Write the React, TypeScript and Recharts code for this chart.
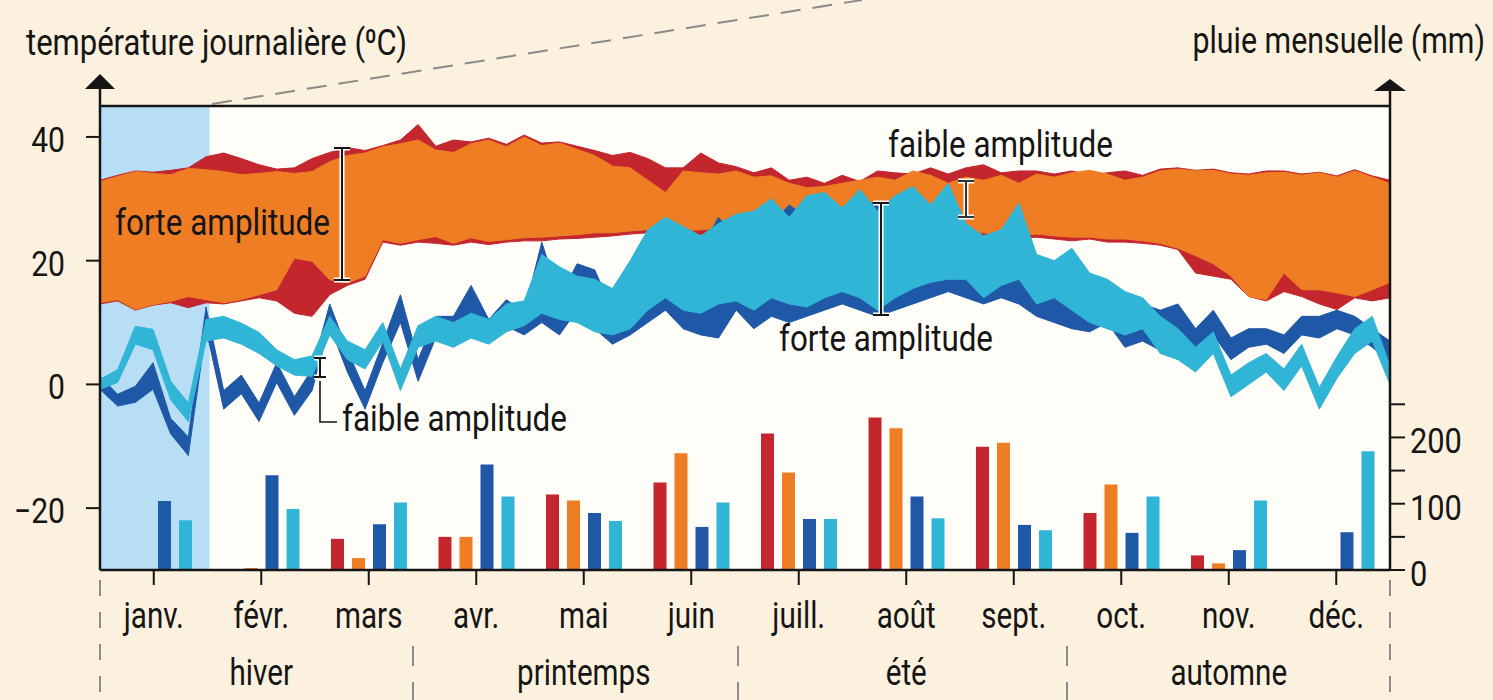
import React from 'react';
import { ComposedChart, Area, Bar, XAxis, YAxis, ReferenceArea } from 'recharts';

const W = 1493;
const H = 700;
const FONT = 'Roboto, "Noto Sans", sans-serif';
const INK = '#151515';

const C_RED = '#c3262d';
const C_ORANGE = '#ee7d24';
const C_DBLUE = '#1f58a7';
const C_LBLUE = '#31b5d6';
const C_JAN = '#b8def6';
const C_BG = '#fcf1de';
const C_PLOT = '#fffdf8';

// ---- daily temperatures (sampled every 5 days) ----
const DAYS = [0, 5, 10, 15, 20, 25, 30, 35, 40, 45, 50, 55, 60, 65, 70, 75, 80, 85, 90, 95, 100, 105, 110, 115, 120, 125, 130, 135, 140, 145, 150, 155, 160, 165, 170, 175, 180, 185, 190, 195, 200, 205, 210, 215, 220, 225, 230, 235, 240, 245, 250, 255, 260, 265, 270, 275, 280, 285, 290, 295, 300, 305, 310, 315, 320, 325, 330, 335, 340, 345, 350, 355, 360, 365];

const RED_MAX = [33, 33.8, 34.5, 34.3, 34.6, 35, 36.8, 37.4, 36.5, 35.5, 34.8, 35, 36.5, 37.5, 38.3, 37.8, 38.6, 39.5, 42, 38.5, 39.5, 39.2, 39.8, 38.8, 40.3, 39, 39.2, 38.5, 37.8, 37, 37.5, 36.5, 35, 35, 37.4, 35.8, 35.2, 34.2, 35, 33, 33.5, 32.5, 33.8, 32.8, 34.5, 34.2, 34, 35, 34, 35, 35.5, 34.2, 34.5, 34.5, 34, 34.5, 33.8, 34.2, 34.5, 33.8, 34.8, 35, 34.6, 34.8, 34.2, 34, 34.5, 34.5, 34, 34.3, 33.7, 34.7, 33.7, 33];
const RED_MIN = [13, 13.5, 12, 12.8, 13.2, 12.4, 13.2, 13, 13.5, 14, 13.5, 11.5, 11, 14.5, 16, 17, 23, 22.5, 23, 22.8, 22.5, 23, 22.6, 23, 23.2, 23.2, 23.5, 23.6, 23.8, 24, 24.3, 24.5, 24.5, 24.5, 24.2, 24.8, 25, 25, 25.2, 25, 25.5, 25.8, 25.5, 26, 26, 25.8, 25.5, 25, 24.8, 24, 24, 23.8, 23.5, 23.8, 23.5, 23.2, 23.5, 23, 23, 22.8, 22.5, 21.8, 18, 17.5, 17, 14.2, 13.5, 15, 14.2, 13, 12.1, 14, 13.5, 14];
const ORANGE_MAX = [32.8, 33.6, 34.4, 34.1, 33.9, 34.9, 34.7, 34.4, 33.9, 34.1, 34.4, 34.1, 34.4, 36, 37, 37.4, 38.4, 38.9, 39.5, 37.9, 37.5, 38.9, 39.5, 38.4, 40, 38.6, 39, 38, 37, 35.3, 35, 33, 31, 34.5, 34.2, 34, 34.5, 33.5, 33.7, 32.5, 31.8, 32, 32.5, 33, 33.5, 33, 34.5, 33.8, 32.5, 33.5, 33, 33.8, 32.5, 34, 33.5, 34.2, 34.6, 34, 33, 33.5, 34.5, 34.8, 34.5, 34.6, 34, 33.8, 34.2, 34.3, 33.8, 34.2, 33.5, 34.5, 33.5, 32.5];
const ORANGE_MIN = [13.2, 13.7, 12.1, 12.9, 13.4, 14.2, 13.7, 13.2, 13.7, 14.5, 15.3, 20.4, 19.9, 16.9, 16.4, 17.5, 23.4, 22.8, 23.4, 23.9, 22.8, 23.7, 23.1, 23.4, 23.7, 23.8, 24, 24.2, 24.5, 24.5, 24.8, 25, 25, 24.8, 25, 25.2, 25.5, 25.5, 26, 25.8, 26, 26.5, 26, 26.2, 26.5, 26.2, 26, 25.5, 25.2, 24.5, 24.5, 24.2, 24, 24.3, 24, 23.8, 23.8, 23.5, 23.5, 23.2, 22.8, 22, 20.8, 19.5, 17.5, 14.2, 13.7, 18, 15.3, 15.3, 14.8, 14.2, 15.3, 16.5];
const DBLUE_MAX = [1.3, -1.6, -0.3, 3.5, -5.5, -8.5, 12.5, -1, 1.5, -3, 3.5, -2, 2.4, 13, 5.5, -1, 6.7, 14.5, 4, 11, 11, 16, 10.5, 13.7, 11.6, 23, 14, 19.5, 18.5, 12, 15, 22, 25, 21, 22, 27, 24, 24, 26, 29, 27, 27, 26, 29, 29.5, 27, 28, 27, 29, 22, 20, 21, 20, 19, 17, 18, 16, 14, 12, 13, 12, 13, 9, 12, 7.5, 9, 9, 8, 11, 11, 12, 11, 9, 7];
const DBLUE_MIN = [-0.8, -3.5, -2.9, -0.8, -8, -11.5, 9, -4, -1.5, -6, 0.3, -5, -1, 9.5, 2, -4, 3.5, 10, 0.5, 7.5, 8, 11, 7.3, 9.4, 8, 10, 8, 12, 9, 6.5, 8, 10, 12, 9, 8, 7.5, 12, 9, 11, 10, 11, 12, 13, 12, 11, 12, 13, 14, 15, 14, 13, 14, 13, 11, 10, 9, 8.5, 10, 6, 7, 5.5, 6, 5, 8, 4, 6, 6.5, 5, 8, 7.5, 9, 8, 6, 3.5];
const LBLUE_MAX = [0.8, 2.4, 9.4, 8.9, 0.5, -3, 10.5, 11, 9.9, 8.4, 5.6, 4, 4.6, 11, 7, 5.6, 10, 2.5, 9.5, 11, 10, 11.5, 10.5, 13, 13.5, 21, 19, 17.5, 17, 15.5, 20, 25, 27, 25.5, 24, 26, 27.5, 28, 30, 27, 30.5, 31, 28.5, 31.5, 28, 30.5, 32, 29, 32.5, 26, 24, 25, 29.3, 21, 20, 22, 18, 17, 15, 14, 11, 9, 6, 8.5, 1.5, 3.5, 5, 2.5, 6.5, -0.5, 4.5, 9, 11, 3];
const LBLUE_MIN = [-0.8, 0.3, 6.5, 5.6, -2.5, -6, 7, 7.5, 6.5, 5, 3, 1.5, 1.3, 8, 4, 2.5, 7, -1, 6, 7, 6, 7.5, 6.5, 8.5, 9.5, 11.5, 10.5, 10, 8.5, 8, 9, 12, 14, 12, 11.5, 13, 13.5, 12, 14, 13, 12.5, 14, 15, 14, 12, 14, 15.5, 16.5, 17, 17, 14, 16, 17, 13, 14, 12, 10, 9, 8, 9, 5, 4, 2, 5, -2, 0, 2, -1, 3, -4, 1, 5, 7, 0];

// ---- monthly rainfall (mm) ----
const MONTHS = ['janv.', 'févr.', 'mars', 'avr.', 'mai', 'juin', 'juill.', 'août', 'sept.', 'oct.', 'nov.', 'déc.'];
const RAIN_RED = [0, 0, 47, 50, 114, 132, 206, 230, 186, 86, 22, 0];
const RAIN_ORANGE = [0, 3, 18, 50, 105, 176, 147, 214, 192, 129, 10, 0];
const RAIN_DBLUE = [104, 143, 69, 159, 86, 65, 77, 111, 68, 56, 30, 57];
const RAIN_LBLUE = [75, 92, 102, 111, 74, 102, 77, 78, 60, 111, 105, 179];

const TEMP_TICKS = [-20, 0, 20, 40];
const RAIN_TICKS = [0, 50, 100, 150, 200, 250];
const SEASONS = ['hiver', 'printemps', 'été', 'automne'];
const JANUARY = [0, 31];

const tempData = DAYS.map((day, i) => ({
  day,
  rd: [RED_MIN[i], RED_MAX[i]],
  or: [ORANGE_MIN[i], ORANGE_MAX[i]],
  db: [DBLUE_MIN[i], DBLUE_MAX[i]],
  lb: [LBLUE_MIN[i], LBLUE_MAX[i]],
}));

const rainData = MONTHS.map((month, i) => ({
  month,
  r: RAIN_RED[i],
  o: RAIN_ORANGE[i],
  d: RAIN_DBLUE[i],
  l: RAIN_LBLUE[i],
}));

// plot rectangle
const PL = 100;
const PR = 1390;
const PT = 106;
const PB = 570;

const layer: React.CSSProperties = { position: 'absolute', left: 0, top: 0 };

const CT = ({ x, y, children, size = 37, anchor = 'start', sx = 0.8, len, fill = INK }: any) => (
  <text
    transform={`translate(${x} ${y}) scale(${sx} 1)`}
    textAnchor={anchor}
    fontSize={size}
    fontFamily={FONT}
    fill={fill}
    textLength={len ? len / sx : undefined}
    lengthAdjust={len ? 'spacingAndGlyphs' : undefined}
  >
    {children}
  </text>
);

const LeftTick = (props: any) => {
  const { x, y, payload } = props;
  const v = payload.value;
  const s = v < 0 ? '\u2212' + Math.abs(v) : String(v);
  return <CT x={x - 19} y={y + 15} size={35} anchor="end" sx={0.86}>{s}</CT>;
};

const RightTick = (props: any) => {
  const { x, y, payload } = props;
  const v = payload.value;
  if (v % 100 !== 0) return <g />;
  return <CT x={x + 3} y={y + 16} size={35} sx={0.88}>{String(v)}</CT>;
};

const MonthTick = (props: any) => {
  const { x, y, payload } = props;
  return <CT x={x} y={y + 41} anchor="middle">{payload.value}</CT>;
};

const Bracket = ({ x, y1, y2, w = 8, color = INK }: any) => (
  <g>
    <path d={`M${x - w} ${y1}H${x + w}M${x} ${y1}V${y2}M${x - w} ${y2}H${x + w}`} stroke="#ffffff" strokeWidth={5} fill="none" />
    <path d={`M${x - w} ${y1}H${x + w}M${x} ${y1}V${y2}M${x - w} ${y2}H${x + w}`} stroke={color} strokeWidth={2} fill="none" />
  </g>
);

export default function App() {
  const monthW = (PR - PL) / 12;
  const seasonCenters = [1, 4, 7, 10].map((m) => PL + (m + 0.5) * monthW);
  return (
    <div style={{ position: 'absolute', left: 0, top: 0, width: W, height: H, background: C_BG, overflow: 'hidden' }}>
      {/* plot background */}
      <div style={{ position: 'absolute', left: PL, top: PT, width: PR - PL, height: PB - PT, background: C_PLOT }} />

      {/* temperatures */}
      <div style={layer}>
        <ComposedChart width={W} height={H} data={tempData} margin={{ top: PT, right: W - PR, bottom: H - PB, left: PL - 60 }}>
          <XAxis type="number" dataKey="day" domain={[0, 365]} hide allowDataOverflow />
          <YAxis
            domain={[-30, 45]}
            ticks={TEMP_TICKS}
            width={60}
            tickSize={14}
            axisLine={{ stroke: INK, strokeWidth: 2.5 }}
            tickLine={{ stroke: INK, strokeWidth: 2 }}
            tick={LeftTick}
            allowDataOverflow
          />
          <ReferenceArea x1={JANUARY[0]} x2={JANUARY[1]} y1={-30} y2={45} fill={C_JAN} fillOpacity={1} stroke="none" ifOverflow="extendDomain" zIndex={-10} />
          <Area type="linear" dataKey="rd" fill={C_RED} fillOpacity={1} stroke={C_RED} strokeWidth={1} isAnimationActive={false} dot={false} activeDot={false} />
          <Area type="linear" dataKey="or" fill={C_ORANGE} fillOpacity={1} stroke={C_ORANGE} strokeWidth={1} isAnimationActive={false} dot={false} activeDot={false} />
          <Area type="linear" dataKey="db" fill={C_DBLUE} fillOpacity={1} stroke={C_DBLUE} strokeWidth={1} isAnimationActive={false} dot={false} activeDot={false} />
          <Area type="linear" dataKey="lb" fill={C_LBLUE} fillOpacity={1} stroke={C_LBLUE} strokeWidth={1} isAnimationActive={false} dot={false} activeDot={false} />
        </ComposedChart>
      </div>

      {/* monthly rainfall */}
      <div style={layer}>
        <ComposedChart width={W} height={H} data={rainData} barGap={8} margin={{ top: PT, right: W - PR - 100, bottom: H - PB - 60, left: PL }}>
          <XAxis
            dataKey="month"
            height={60}
            interval={0}
            tickSize={15}
            axisLine={{ stroke: INK, strokeWidth: 2.5 }}
            tickLine={{ stroke: INK, strokeWidth: 2 }}
            tick={MonthTick}
          />
          <YAxis
            yAxisId="rain"
            orientation="right"
            domain={[0, 700]}
            ticks={RAIN_TICKS}
            width={100}
            tickSize={15}
            axisLine={{ stroke: INK, strokeWidth: 2.5 }}
            tickLine={{ stroke: INK, strokeWidth: 2 }}
            tick={RightTick}
          />
          <Bar yAxisId="rain" dataKey="r" fill={C_RED} barSize={13} isAnimationActive={false} />
          <Bar yAxisId="rain" dataKey="o" fill={C_ORANGE} barSize={13} isAnimationActive={false} />
          <Bar yAxisId="rain" dataKey="d" fill={C_DBLUE} barSize={13} isAnimationActive={false} />
          <Bar yAxisId="rain" dataKey="l" fill={C_LBLUE} barSize={13} isAnimationActive={false} />
        </ComposedChart>
      </div>

      {/* decorations & annotations */}
      <svg width={W} height={H} style={{ ...layer, pointerEvents: 'none' }}>
        <line x1={212} y1={104} x2={862} y2={0} stroke="#8a8a8a" strokeWidth={2} strokeDasharray="20 12" />
        <line x1={PL - 1} y1={PT} x2={PR + 1} y2={PT} stroke={INK} strokeWidth={2.5} />
        <line x1={PL} y1={88} x2={PL} y2={PT} stroke={INK} strokeWidth={2.5} />
        <polygon points={`${PL - 15},89 ${PL + 15},89 ${PL},74`} fill={INK} />
        <line x1={PR} y1={90} x2={PR} y2={PT} stroke={INK} strokeWidth={2.5} />
        <polygon points={`${PR - 16},91 ${PR + 16},91 ${PR},79`} fill={INK} />

        <CT x={26} y={55} sx={1} len={381}>température journalière (⁰C)</CT>
        <CT x={1485} y={53} anchor="end" sx={0.82}>pluie mensuelle (mm)</CT>

        {/* season separators */}
        {[PL, PR].map((x) => (
          <line key={'s' + x} x1={x} y1={580} x2={x} y2={700} stroke="#8c8c8c" strokeWidth={2} strokeDasharray="16 16" />
        ))}
        {[413, 738, 1067].map((x) => (
          <line key={'m' + x} x1={x} y1={646} x2={x} y2={700} stroke="#8c8c8c" strokeWidth={2} strokeDasharray="20 16" />
        ))}
        {SEASONS.map((s, i) => (
          <CT key={s} x={seasonCenters[i]} y={685} anchor="middle">{s}</CT>
        ))}

        {/* annotations */}
        <CT x={115} y={235} len={215}>forte amplitude</CT>
        <Bracket x={342} y1={148} y2={280} />
        <CT x={888} y={157} len={225}>faible amplitude</CT>
        <Bracket x={966} y1={181} y2={217} color="#333" />
        <CT x={779} y={351} len={214}>forte amplitude</CT>
        <Bracket x={881} y1={203} y2={315} />
        <Bracket x={320} y1={358} y2={377} w={6} />
        <path d="M320 381V422H337" stroke={INK} strokeWidth={1.6} fill="none" />
        <CT x={342} y={431} len={225}>faible amplitude</CT>
      </svg>
    </div>
  );
}
